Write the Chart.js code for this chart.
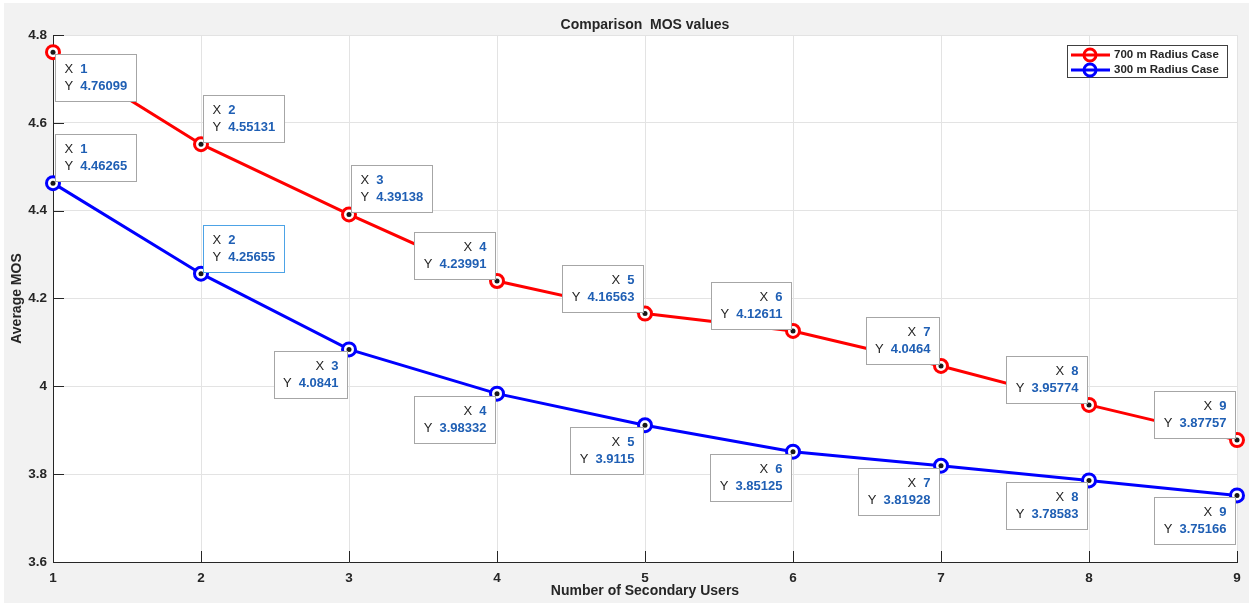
<!DOCTYPE html>
<html>
<head>
<meta charset="utf-8">
<script src="https://cdn.jsdelivr.net/npm/chart.js@4/dist/chart.umd.min.js"></script>
<style>
  html, body { margin: 0; padding: 0; background: #fff; }
  #wrap { width: 1249px; height: 603px; }
</style>
</head>
<body>
<div id="wrap"><canvas id="mosChart" width="1249" height="603"></canvas></div>
<script>
// データ
const users = [1, 2, 3, 4, 5, 6, 7, 8, 9];
const mos700 = [4.76099, 4.55131, 4.39138, 4.23991, 4.16563, 4.12611, 4.0464, 3.95774, 3.87757];
const mos300 = [4.46265, 4.25655, 4.0841, 3.98332, 3.9115, 3.85125, 3.81928, 3.78583, 3.75166];
const seriesNames = ['700 m Radius Case', '300 m Radius Case'];
const chartTitle = 'Comparison  MOS values';

// データチップの向き (br: 右下, ar: 右上, al: 左上, bl: 左下)
const tipSide700 = ['br', 'ar', 'ar', 'al', 'al', 'al', 'al', 'al', 'al'];
const tipSide300 = ['ar', 'ar', 'bl', 'bl', 'bl', 'bl', 'bl', 'bl', 'bl'];
const tipSides = [tipSide700, tipSide300];
const selectedTip = { ds: 1, idx: 1 }; // 青枠のチップ

const FONT = '"Liberation Sans", Arial, sans-serif';
const INK = '#262626';

function fmtVal(v) {
    return Number(v.toPrecision(6)).toString();
}

// MATLAB風の装飾プラグイン
const matlabLook = {
    id: 'matlabLook',
    beforeDraw(chart) {
        const { ctx, chartArea: a } = chart;
        ctx.save();
        ctx.fillStyle = '#f2f2f2';
        ctx.fillRect(4, 3, chart.width - 4, chart.height - 3);
        ctx.fillStyle = '#ffffff';
        ctx.fillRect(a.left, a.top, a.right - a.left, a.bottom - a.top);
        ctx.restore();
    },
    afterDraw(chart) {
        const { ctx, chartArea: a } = chart;
        const xs = chart.scales.x, ys = chart.scales.y;
        ctx.save();

        // 内向きの目盛り
        ctx.strokeStyle = INK;
        ctx.lineWidth = 1;
        ctx.beginPath();
        ys.ticks.forEach(t => {
            const y = Math.round(ys.getPixelForValue(t.value)) + 0.5;
            ctx.moveTo(a.left, y);
            ctx.lineTo(a.left + 11, y);
        });
        xs.ticks.forEach(t => {
            const x = Math.round(xs.getPixelForValue(t.value)) + 0.5;
            ctx.moveTo(x, a.bottom);
            ctx.lineTo(x, a.bottom - 11);
        });
        ctx.stroke();

        // タイトル
        ctx.fillStyle = INK;
        ctx.font = 'bold 14px ' + FONT;
        ctx.textAlign = 'center';
        ctx.textBaseline = 'middle';
        ctx.fillText(chartTitle, (a.left + a.right) / 2, 25);

        // データチップ
        chart.data.datasets.forEach((ds, di) => {
            const meta = chart.getDatasetMeta(di);
            meta.data.forEach((pt, i) => {
                drawTip(ctx, pt.x, pt.y, ds.data[i], tipSides[di][i],
                    selectedTip.ds === di && selectedTip.idx === i);
            });
        });

        // 凡例
        drawLegend(ctx, chart);
        ctx.restore();
    }
};

function drawTip(ctx, px, py, d, side, selected) {
    // 点のマーカー
    ctx.fillStyle = '#1a1a1a';
    ctx.beginPath();
    ctx.arc(px, py, 2.5, 0, Math.PI * 2);
    ctx.fill();

    const xs = String(d.x), ysTxt = fmtVal(d.y);
    ctx.font = 'bold 13px ' + FONT;
    const wx = ctx.measureText(xs).width, wy = ctx.measureText(ysTxt).width;
    ctx.font = '13px ' + FONT;
    const lw = ctx.measureText('X').width;
    const gap = 7, pad = 9, h = 47;
    const w = Math.round(pad * 2 + lw + gap + Math.max(wx, wy));

    const right = side === 'ar' || side === 'br';
    const above = side === 'ar' || side === 'al';
    const bx = Math.round(right ? px + 2 : px - 2 - w) + 0.5;
    const by = Math.round(above ? py - 2 - h : py + 2) + 0.5;

    ctx.fillStyle = '#ffffff';
    ctx.fillRect(bx, by, w, h);
    ctx.strokeStyle = selected ? '#4da3e6' : '#a6a6a6';
    ctx.lineWidth = 1;
    ctx.strokeRect(bx, by, w, h);

    ctx.textBaseline = 'middle';
    const rows = [['X', xs, wx, by + 15], ['Y', ysTxt, wy, by + 32]];
    rows.forEach(([lab, val, vw, ry]) => {
        let lx, vx;
        if (right) {
            lx = bx + pad;
            vx = lx + lw + gap;
        } else {
            vx = bx + w - pad - vw;
            lx = vx - gap - lw;
        }
        ctx.textAlign = 'left';
        ctx.font = '13px ' + FONT;
        ctx.fillStyle = INK;
        ctx.fillText(lab, lx, ry);
        ctx.font = 'bold 13px ' + FONT;
        ctx.fillStyle = '#1f5fb4';
        ctx.fillText(val, vx, ry);
    });
}

function drawLegend(ctx, chart) {
    const bx = 1067.5, by = 45.5, bw = 160, bh = 32;
    ctx.fillStyle = '#ffffff';
    ctx.fillRect(bx, by, bw, bh);
    ctx.strokeStyle = '#404040';
    ctx.lineWidth = 1;
    ctx.strokeRect(bx, by, bw, bh);
    chart.data.datasets.forEach((ds, i) => {
        const y = 55 + i * 15;
        ctx.strokeStyle = ds.borderColor;
        ctx.lineWidth = 3;
        ctx.beginPath();
        ctx.moveTo(1071, y);
        ctx.lineTo(1110, y);
        ctx.stroke();
        ctx.beginPath();
        ctx.arc(1090, y, 6, 0, Math.PI * 2);
        ctx.stroke();
        ctx.fillStyle = INK;
        ctx.font = 'bold 11.5px ' + FONT;
        ctx.textAlign = 'left';
        ctx.textBaseline = 'middle';
        ctx.fillText(ds.label, 1114, y);
    });
}

function series(vals, name, color) {
    return {
        label: name,
        data: users.map((u, i) => ({ x: u, y: vals[i] })),
        borderColor: color,
        borderWidth: 3,
        pointRadius: 6.5,
        pointHoverRadius: 6.5,
        pointBorderWidth: 3,
        pointBackgroundColor: '#ffffff',
        pointBorderColor: color,
        tension: 0,
        clip: false
    };
}

const ctx = document.getElementById('mosChart').getContext('2d');
new Chart(ctx, {
    type: 'line',
    data: {
        datasets: [
            series(mos700, seriesNames[0], '#ff0000'),
            series(mos300, seriesNames[1], '#0000ff')
        ]
    },
    options: {
        responsive: false,
        animation: false,
        layout: { padding: { top: 35, right: 12, left: 0, bottom: 0 } },
        plugins: {
            legend: { display: false },
            tooltip: { enabled: false },
            title: { display: false }
        },
        scales: {
            x: {
                type: 'linear',
                min: 1,
                max: 9,
                grid: { color: '#e3e3e3', drawTicks: false },
                border: { color: INK, width: 1 },
                ticks: {
                    stepSize: 1,
                    padding: 8,
                    color: INK,
                    font: { family: FONT, size: 13.5, weight: 'bold' }
                },
                title: {
                    display: true,
                    text: 'Number of Secondary Users',
                    color: INK,
                    font: { family: FONT, size: 14, weight: 'bold' },
                    padding: { top: 0, bottom: 3 }
                },
                afterFit(scale) { scale.height = 41; }
            },
            y: {
                type: 'linear',
                min: 3.6,
                max: 4.8,
                grid: { color: '#e3e3e3', drawTicks: false },
                border: { color: INK, width: 1 },
                ticks: {
                    stepSize: 0.2,
                    padding: 6,
                    color: INK,
                    font: { family: FONT, size: 13.5, weight: 'bold' },
                    callback: v => Number(v.toFixed(1)).toString()
                },
                title: {
                    display: true,
                    text: 'Average MOS',
                    color: INK,
                    font: { family: FONT, size: 14, weight: 'bold' },
                    padding: { top: 9, bottom: 0 }
                },
                afterFit(scale) { scale.width = 53; }
            }
        }
    },
    plugins: [matlabLook]
});
</script>
</body>
</html>
